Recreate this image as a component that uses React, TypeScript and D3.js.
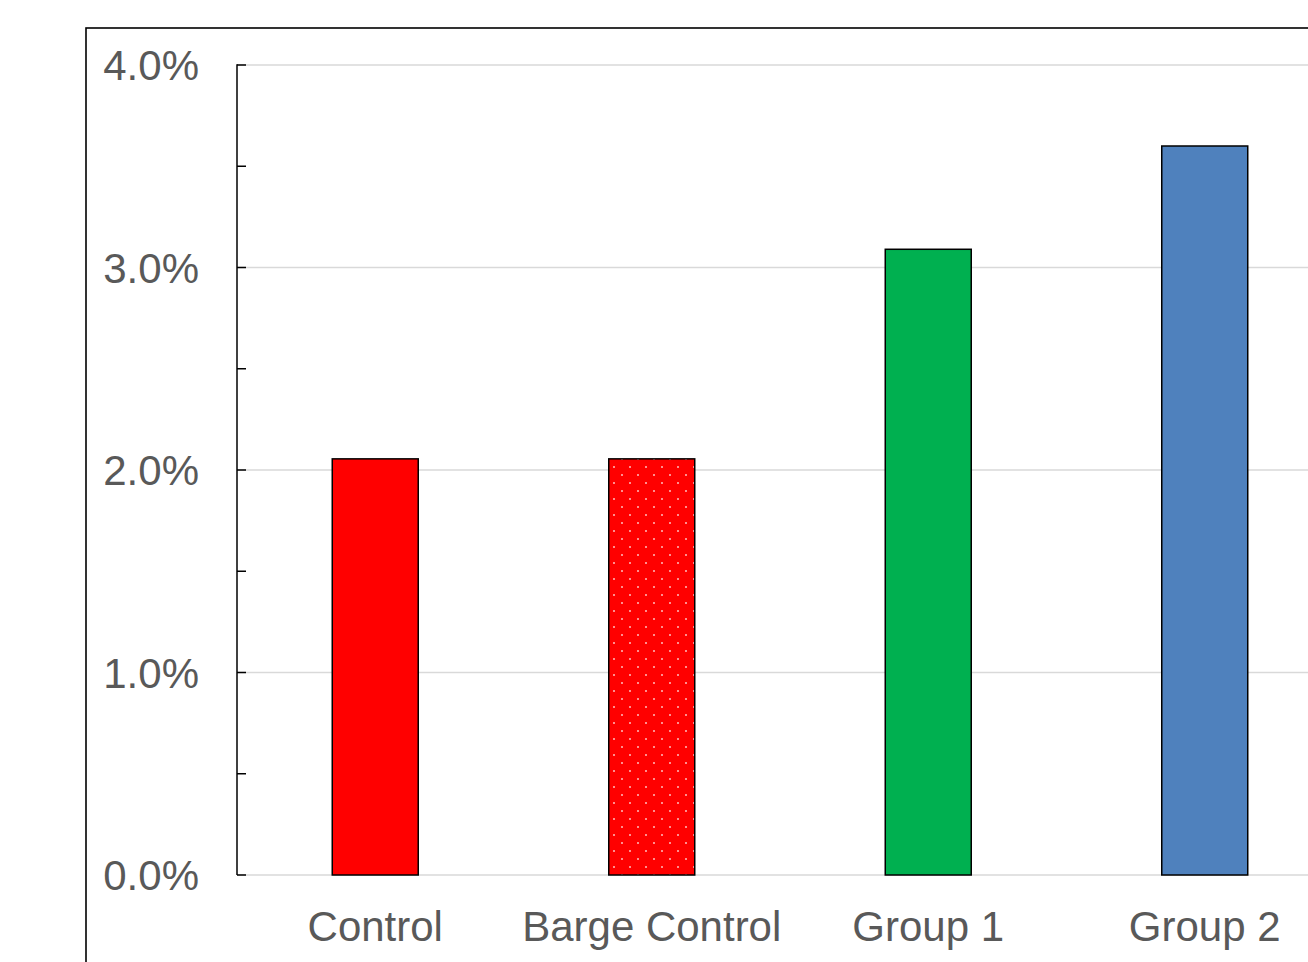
import React from "react";
import * as d3 from "d3";

// Share of units per group
const categories: string[] = ["Control", "Barge Control", "Group 1", "Group 2"];
const values: number[] = [0.02055, 0.02055, 0.0309, 0.036];
const fills: string[] = ["#ff0000", "url(#dots)", "#00b050", "#4f81bd"];
const majorTicks: number[] = [0, 0.01, 0.02, 0.03, 0.04];
const minorTicks: number[] = [0.005, 0.015, 0.025, 0.035];

const W = 1308;
const H = 962;

export default function App() {
  const x = d3
    .scaleBand<string>()
    .domain(categories)
    .range([237, 1343])
    .paddingInner(0.689)
    .paddingOuter(0.3445);
  const y = d3.scaleLinear().domain([0, 0.04]).range([875, 65]);
  const fmt = d3.format(".1%");
  const font = "'Liberation Sans', Arial, sans-serif";

  return (
    <svg
      width={W}
      height={H}
      style={{ position: "absolute", left: 0, top: 0, display: "block", background: "#fff" }}
    >
      <defs>
        <pattern id="dots" patternUnits="userSpaceOnUse" width={16} height={16}>
          <rect width={16} height={16} fill="#ff0000" />
          <rect x={5} y={2} width={2} height={2} fill="#ff8f8f" />
          <rect x={13} y={10} width={2} height={2} fill="#ff8f8f" />
        </pattern>
      </defs>

      {/* outer chart frame */}
      <rect x={86} y={28} width={W} height={H} fill="none" stroke="#000" strokeWidth={1.6} />

      {/* gridlines */}
      {majorTicks.map((t) => (
        <line
          key={"g" + t}
          x1={237}
          x2={W}
          y1={y(t)}
          y2={y(t)}
          stroke="#d9d9d9"
          strokeWidth={1.5}
        />
      ))}

      {/* bars */}
      {categories.map((c, i) => (
        <rect
          key={c}
          x={x(c)}
          y={y(values[i])}
          width={x.bandwidth()}
          height={y(0) - y(values[i])}
          fill={fills[i]}
          stroke="#000"
          strokeWidth={1.5}
        />
      ))}

      {/* y axis */}
      <line x1={237} x2={237} y1={y(0.04) - 0.75} y2={y(0)} stroke="#000" strokeWidth={1.5} />
      {[...majorTicks, ...minorTicks].map((t) => (
        <line key={"t" + t} x1={237} x2={246} y1={y(t)} y2={y(t)} stroke="#000" strokeWidth={1.5} />
      ))}
      {majorTicks.map((t) => (
        <text
          key={"l" + t}
          x={199}
          y={y(t)}
          dy="0.36em"
          textAnchor="end"
          fontFamily={font}
          fontSize={42}
          fill="#595959"
        >
          {fmt(t)}
        </text>
      ))}

      {/* x axis labels */}
      {categories.map((c) => (
        <text
          key={"x" + c}
          x={(x(c) ?? 0) + x.bandwidth() / 2}
          y={941}
          textAnchor="middle"
          fontFamily={font}
          fontSize={42}
          fill="#595959"
        >
          {c}
        </text>
      ))}
    </svg>
  );
}
